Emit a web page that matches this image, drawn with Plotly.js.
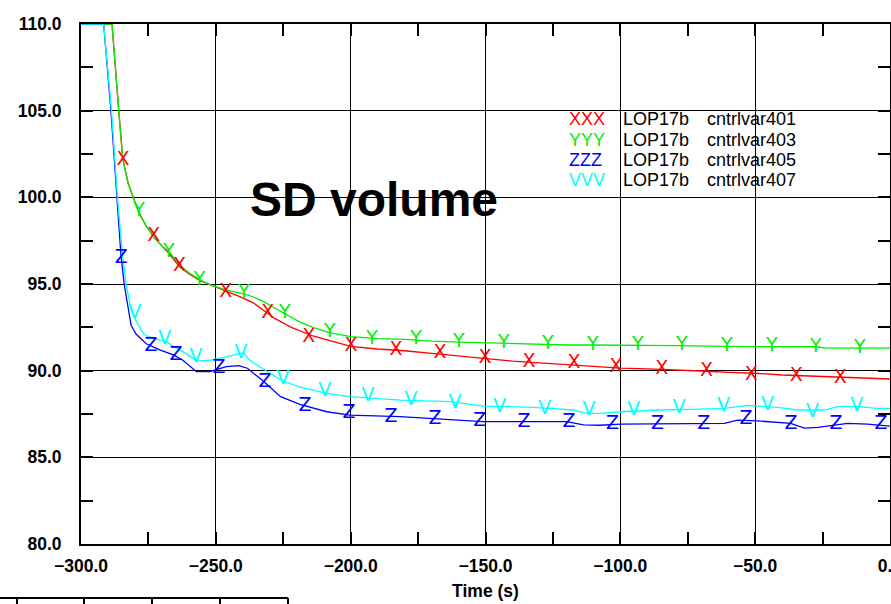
<!DOCTYPE html>
<html>
<head>
<meta charset="utf-8">
<script src="https://cdn.plot.ly/plotly-3.0.1.min.js"></script>
<style>html,body{margin:0;padding:0;background:#fff;}#chart{width:891px;height:604px;}</style>
</head>
<body>
<div id="chart"></div>
<script>
// ---- data ----
const redT = [-300, -288.5, -286, -284.5, -282.5, -280.7, -278.5, -276, -273, -270, -267, -263.5, -260, -256, -252, -246, -240, -236, -232.5, -228, -222, -218.8, -214, -208, -200, -190, -180, -170, -160, -150, -140, -130, -120, -110, -100, -90, -80, -70, -60, -50, -40, -30, -20, -10, 0];
const redV = [110, 110, 105, 102.2, 100.8, 100, 99.1, 98.4, 97.7, 97.2, 96.7, 96.0, 95.6, 95.2, 94.95, 94.6, 94.2, 93.9, 93.5, 93.0, 92.5, 92.3, 92.0, 91.75, 91.4, 91.25, 91.15, 91.0, 90.85, 90.7, 90.55, 90.45, 90.35, 90.25, 90.15, 90.1, 90.05, 89.98, 89.9, 89.85, 89.75, 89.7, 89.62, 89.57, 89.52];

const greenT = [-300, -288.5, -286, -284.5, -282.5, -280.7, -278.5, -276, -273, -270, -267, -263.5, -260, -256, -252, -246, -240, -236, -232.5, -228, -222, -218.8, -214, -208, -200, -190, -180, -170, -160, -150, -140, -130, -120, -110, -100, -80, -60, -40, -27, -24, -10, 0];
const greenV = [110, 110, 105, 102.2, 100.8, 100, 99.1, 98.4, 97.7, 97.2, 96.8, 96.1, 95.65, 95.25, 94.95, 94.65, 94.45, 94.25, 94.0, 93.6, 93.1, 92.8, 92.5, 92.2, 91.96, 91.85, 91.8, 91.7, 91.65, 91.6, 91.55, 91.5, 91.48, 91.48, 91.48, 91.45, 91.4, 91.38, 91.38, 91.3, 91.3, 91.3];

const blueT = [-300, -291.6, -288.9, -286.8, -285.2, -284, -282.6, -281.4, -279.5, -275.8, -270.8, -265.5, -262.2, -259.7, -257.2, -252.3, -248.2, -246.1, -241.5, -238.3, -233.7, -232.1, -226, -218.8, -208.9, -200.3, -181.7, -169.4, -150.8, -119.9, -113.7, -107.6, -99.8, -61.4, -56.6, -49.1, -36.8, -31.8, -26.8, -15.7, -8.3, 0];
const blueV = [110, 110, 105, 100, 96.7, 95, 93.7, 92.6, 92.1, 91.55, 91.2, 90.9, 90.6, 90.25, 89.94, 89.94, 90.14, 90.23, 90.29, 90.14, 89.56, 89.36, 88.5, 88.05, 87.63, 87.44, 87.35, 87.25, 87.06, 87.06, 86.87, 86.85, 86.92, 86.96, 87.15, 87.1, 86.96, 86.69, 86.73, 86.96, 86.92, 86.8];

const cyanT = [-300, -291.6, -288.7, -286.5, -284.8, -283.3, -281.5, -280, -277, -275.6, -270.8, -268.3, -265.8, -262.2, -258.5, -256.9, -252.3, -250.7, -246.1, -241.1, -239.6, -237.4, -232.3, -226, -218.8, -208.9, -200.3, -181.7, -163.2, -150.8, -132.3, -117.5, -112.5, -107.6, -99.8, -86.2, -73.9, -61.4, -52.8, -41.6, -34.2, -24.4, -19.4, -12, -4.6, 0];
const cyanV = [110, 110, 105, 100, 97, 95, 93.55, 93.0, 92.15, 92.0, 91.77, 91.67, 91.4, 91.1, 90.71, 90.55, 90.6, 90.65, 90.8, 91.0, 91.0, 90.6, 90.1, 89.46, 89.05, 88.69, 88.5, 88.3, 88.21, 87.96, 87.88, 87.73, 87.54, 87.54, 87.63, 87.73, 87.77, 87.83, 88.0, 87.88, 87.73, 87.73, 87.92, 87.92, 87.83, 87.83];

// letter markers
const redMarkT = [-284.4, -273, -263.5, -246.3, -230.7, -215.5, -199.9, -183.2, -166.9, -150.2, -133.9, -117.2, -101.6, -84.6, -68.0, -51.4, -34.8, -18.4];
const redMarkV = [102.15, 97.73, 96.0, 94.5, 93.3, 91.9, 91.4, 91.2, 91.0, 90.7, 90.5, 90.4, 90.17, 90.08, 89.98, 89.75, 89.7, 89.56];
const greenMarkT = [-278.5, -267.4, -256, -239.5, -224.4, -207.7, -192.1, -175.8, -159.9, -143.2, -126.9, -110.2, -93.5, -77.2, -60.5, -43.8, -27.5, -11.2];
const greenMarkV = [99.17, 96.86, 95.23, 94.46, 93.3, 92.2, 91.8, 91.8, 91.65, 91.6, 91.5, 91.45, 91.45, 91.45, 91.4, 91.4, 91.38, 91.3];
const blueMarkT = [-285.1, -274.0, -264.8, -248.8, -231.8, -216.9, -200.6, -185, -168.7, -152.1, -135.7, -119, -102.9, -86.2, -69.1, -53.4, -36.7, -20.0, -3.3];
const blueMarkV = [96.5, 91.4, 90.9, 90.15, 89.35, 87.96, 87.56, 87.3, 87.2, 87.1, 87.0, 87.0, 86.92, 86.92, 86.92, 87.2, 86.92, 86.92, 86.92];
const cyanMarkT = [-280.1, -268.9, -257.4, -240.7, -225.1, -209.6, -193.6, -177.6, -161.3, -144.7, -128, -111.6, -95, -78.2, -61.7, -45.4, -28.7, -12.3];
const cyanMarkV = [93.3, 91.8, 90.8, 91.0, 89.5, 88.8, 88.5, 88.3, 88.1, 87.9, 87.8, 87.7, 87.73, 87.83, 87.92, 88.0, 87.63, 87.96];

const seriesColors = ['#ff0000', '#00ee00', '#0000ff', '#00ffff'];
const seriesLetters = ['X', 'Y', 'Z', 'V'];
const legendSymbols = ['XXX', 'YYY', 'ZZZ', 'VVV'];
const legendNames = ['LOP17b', 'LOP17b', 'LOP17b', 'LOP17b'];
const legendVars = ['cntrlvar401', 'cntrlvar403', 'cntrlvar405', 'cntrlvar407'];
const chartTitle = 'SD volume';
const xTitle = 'Time (s)';

// ---- build ----
const lines = [[redT, redV], [greenT, greenV], [blueT, blueV], [cyanT, cyanV]];
const marks = [[redMarkT, redMarkV], [greenMarkT, greenMarkV], [blueMarkT, blueMarkV], [cyanMarkT, cyanMarkV]];
const traces = [];
lines.forEach((l, i) => {
  traces.push({x: l[0], y: l[1], mode: 'lines', type: 'scatter', showlegend: false,
    line: {color: seriesColors[i], width: 1.3}, hoverinfo: 'skip'});
});
marks.forEach((m, i) => {
  traces.push({x: m[0], y: m[1], mode: 'text', type: 'scatter', showlegend: false,
    text: m[0].map(() => seriesLetters[i]), textposition: 'middle center',
    textfont: {family: 'DejaVu Sans, sans-serif', size: 19, color: seriesColors[i]},
    cliponaxis: false, hoverinfo: 'skip'});
});

const plotL = 81, plotR = 890, plotT = 24, plotB = 544;
const W = plotR - plotL, H = plotB - plotT;
const px = v => (v - plotL) / W;
const py = v => (plotB - v) / H;

const annotations = [];
const rowY = [119, 139.5, 160, 180];
legendSymbols.forEach((s, i) => {
  annotations.push({xref: 'paper', yref: 'paper', x: px(567), y: py(rowY[i]), xanchor: 'left', yanchor: 'middle',
    text: s, showarrow: false, font: {family: 'Liberation Sans, Arial, sans-serif', size: 18, color: seriesColors[i]}});
  annotations.push({xref: 'paper', yref: 'paper', x: px(621), y: py(rowY[i]), xanchor: 'left', yanchor: 'middle',
    text: legendNames[i], showarrow: false, font: {family: 'Liberation Sans, Arial, sans-serif', size: 18, color: '#000'}});
  annotations.push({xref: 'paper', yref: 'paper', x: px(705), y: py(rowY[i]), xanchor: 'left', yanchor: 'middle',
    text: legendVars[i], showarrow: false, font: {family: 'Liberation Sans, Arial, sans-serif', size: 18, color: '#000'}});
});
annotations.push({xref: 'paper', yref: 'paper', x: px(248), y: py(199), xanchor: 'left', yanchor: 'middle',
  text: chartTitle, showarrow: false, font: {family: 'Liberation Sans, Arial, sans-serif', size: 48, weight: 'bold', color: '#000'}});

// fragment of a neighbouring table at the bottom-left of the slide
const shapes = [{type: 'line', xref: 'paper', yref: 'paper', x0: px(0), x1: px(288), y0: py(598), y1: py(598), line: {color: '#000', width: 2}}];
[17, 84, 152, 220, 288].forEach(v => shapes.push({type: 'line', xref: 'paper', yref: 'paper', x0: px(v), x1: px(v), y0: py(598), y1: py(606), line: {color: '#000', width: 2}}));

const tickFont = {family: 'Liberation Sans, Arial, sans-serif', size: 17.5, weight: 'bold', color: '#000'};
const axisCommon = {
  showgrid: true, gridcolor: '#000', gridwidth: 1,
  showline: true, linecolor: '#000', linewidth: 2, mirror: 'allticks',
  ticks: 'inside', ticklen: 12, tickwidth: 2, tickcolor: '#000',
  zeroline: false, tickformat: '.1f', tickfont: tickFont, ticklabeloverflow: 'allow',
};

const layout = {
  width: 891, height: 604,
  margin: {l: plotL, r: 891 - plotR, t: plotT, b: 604 - plotB},
  paper_bgcolor: '#ffffff', plot_bgcolor: '#ffffff',
  showlegend: false,
  xaxis: Object.assign({}, axisCommon, {
    range: [-300, 0], dtick: 50, tick0: 0, ticklabelstandoff: 5,
    minor: {dtick: 25, ticks: 'inside', ticklen: 12, tickwidth: 2, tickcolor: '#000', showgrid: false},
    title: {text: xTitle, font: {family: 'Liberation Sans, Arial, sans-serif', size: 17.5, weight: 'bold', color: '#000'}, standoff: 10}
  }),
  yaxis: Object.assign({}, axisCommon, {
    range: [80, 110], dtick: 5, tick0: 0, ticklabelstandoff: 14,
    minor: {dtick: 2.5, ticks: 'inside', ticklen: 12, tickwidth: 2, tickcolor: '#000', showgrid: false}
  }),
  annotations: annotations,
  shapes: shapes,
};

Plotly.newPlot('chart', traces, layout, {staticPlot: true, displayModeBar: false});
</script>
</body>
</html>
